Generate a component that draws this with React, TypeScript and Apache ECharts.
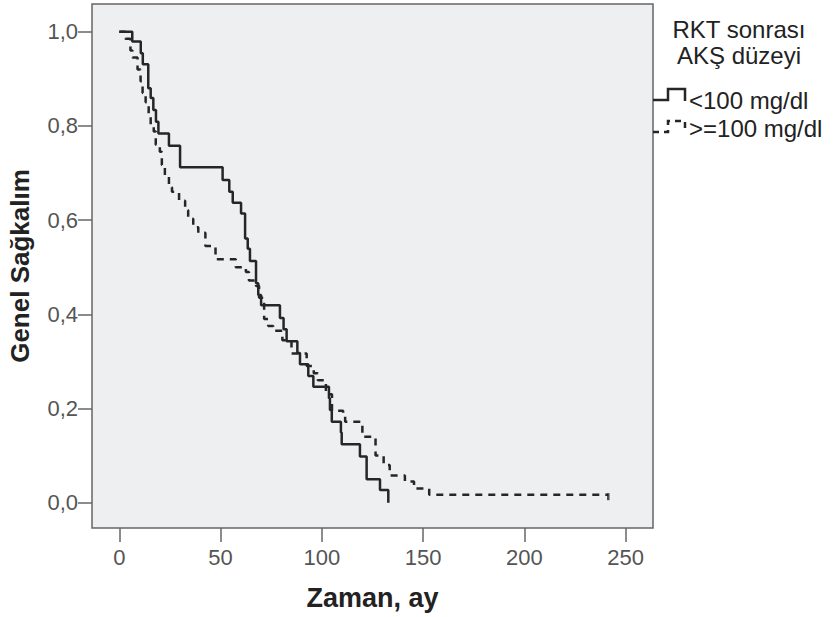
import React, { useEffect, useRef } from "react";
import * as echarts from "echarts";

const solidTimes = [0, 6.4, 10.6, 11.6, 14.3, 15.5, 16.8, 18.1, 19.3, 24.5, 30.0, 51.0, 54.3, 56.0, 60.1, 62.1, 63.4, 64.5, 67.5, 68.6, 70.0, 79.3, 81.1, 82.6, 87.9, 89.2, 93.3, 95.8, 103.5, 104.0, 104.9, 109.4, 109.8, 118.8, 122.1, 128.7, 132.8];
const solidSurv = [1.0, 0.979, 0.954, 0.931, 0.880, 0.859, 0.834, 0.809, 0.784, 0.758, 0.712, 0.685, 0.660, 0.637, 0.614, 0.561, 0.539, 0.513, 0.466, 0.441, 0.419, 0.392, 0.368, 0.343, 0.318, 0.294, 0.269, 0.246, 0.222, 0.197, 0.172, 0.149, 0.124, 0.098, 0.050, 0.027, 0.0];

const dashTimes = [0, 3, 5.5, 6.5, 9, 10.5, 11.5, 13, 14.5, 15.5, 17, 18, 20, 21, 22.5, 24.5, 26, 29.5, 32.5, 34, 36.5, 39, 42.5, 47.5, 57.5, 62.5, 64, 67.5, 69, 71.5, 73.5, 76, 80.5, 85, 92.5, 96, 98, 102, 105, 110.5, 111.5, 120, 126.5, 130.5, 133.5, 141, 145.5, 153, 241.4];
const dashSurv = [1.0, 0.985, 0.96, 0.945, 0.92, 0.895, 0.87, 0.85, 0.825, 0.80, 0.788, 0.76, 0.745, 0.717, 0.692, 0.67, 0.66, 0.641, 0.621, 0.603, 0.585, 0.573, 0.545, 0.517, 0.50, 0.49, 0.472, 0.46, 0.435, 0.39, 0.375, 0.365, 0.345, 0.317, 0.29, 0.275, 0.26, 0.23, 0.195, 0.185, 0.172, 0.14, 0.10, 0.08, 0.058, 0.045, 0.03, 0.017, 0.017];

const xTicks = [0, 50, 100, 150, 200, 250];
const yTicks = [0, 0.2, 0.4, 0.6, 0.8, 1.0];

const groupNames = ["<100 mg/dl", ">=100 mg/dl"];
const legendTitle = ["RKT sonrası", "AKŞ düzeyi"];
const xTitle = "Zaman, ay";
const yTitle = "Genel Sağkalım";

export default function App() {
  const ref = useRef<HTMLDivElement>(null);
  useEffect(() => {
    document.body.style.margin = "0";
    const chart = echarts.init(ref.current!, null, { renderer: "svg" });
    const lineColor = "#262626";
    const font = "Liberation Sans, Arial, sans-serif";
    const solidData = solidTimes.map((t, i) => [t, solidSurv[i]]);
    const dashData = dashTimes.map((t, i) => [t, dashSurv[i]]);
    const lastDash = dashData[dashData.length - 1];
    chart.setOption({
      animation: false,
      backgroundColor: "#ffffff",
      grid: {
        left: 92,
        top: 4,
        width: 561,
        height: 524,
        show: true,
        backgroundColor: "#EEEFF1",
        borderColor: "#666666",
        borderWidth: 1.5,
        outerBoundsMode: "none",
      },
      xAxis: {
        type: "value",
        min: -13.48,
        max: 263.48,
        name: xTitle,
        nameLocation: "middle",
        nameGap: 56,
        nameTextStyle: { fontFamily: font, fontSize: 27, fontWeight: "bold", color: "#222222" },
        axisLine: { show: false, onZero: false },
        axisTick: { show: true, length: 14, customValues: xTicks, lineStyle: { color: "#666666", width: 1.5 } },
        axisLabel: { customValues: xTicks, margin: 18, fontFamily: font, fontSize: 22, color: "#555555" },
        splitLine: { show: false },
      },
      yAxis: {
        type: "value",
        min: -0.0537,
        max: 1.0588,
        name: yTitle,
        nameLocation: "middle",
        nameGap: 59,
        nameTextStyle: { fontFamily: font, fontSize: 26, fontWeight: "bold", color: "#222222" },
        axisLine: { show: false, onZero: false },
        axisTick: { show: true, length: 14, customValues: yTicks, lineStyle: { color: "#666666", width: 1.5 } },
        axisLabel: {
          customValues: yTicks,
          margin: 14,
          fontFamily: font,
          fontSize: 22,
          color: "#555555",
          formatter: (v: number) => v.toFixed(1).replace(".", ","),
        },
        splitLine: { show: false },
      },
      series: [
        {
          name: groupNames[0],
          type: "line",
          step: "end",
          data: solidData,
          symbol: "none",
          lineStyle: { color: lineColor, width: 2.5 },
        },
        {
          name: groupNames[1],
          type: "line",
          step: "end",
          data: dashData,
          symbol: "none",
          lineStyle: { color: lineColor, width: 2.5, type: [7, 6] },
        },
        {
          type: "scatter",
          data: [lastDash],
          symbol: "rect",
          symbolSize: [2.5, 7],
          symbolOffset: [0, 2],
          itemStyle: { color: lineColor },
        },
      ],
      graphic: [
        { type: "text", x: 739, y: 29, style: { text: legendTitle[0], font: `24px ${font}`, fill: "#222222", align: "center", verticalAlign: "middle" } },
        { type: "text", x: 739, y: 55, style: { text: legendTitle[1], font: `24px ${font}`, fill: "#222222", align: "center", verticalAlign: "middle" } },
        { type: "polyline", shape: { points: [[653, 100], [668, 100], [668, 89], [685, 89], [685, 101]] }, style: { stroke: lineColor, lineWidth: 2.5, fill: null } },
        { type: "text", x: 689, y: 100, style: { text: groupNames[0], font: `24px ${font}`, fill: "#222222", align: "left", verticalAlign: "middle" } },
        { type: "polyline", shape: { points: [[653, 132], [668, 132], [668, 121], [685, 121], [685, 132]] }, style: { stroke: lineColor, lineWidth: 2.5, fill: null, lineDash: [6, 5] } },
        { type: "text", x: 689, y: 128, style: { text: groupNames[1], font: `24px ${font}`, fill: "#222222", align: "left", verticalAlign: "middle" } },
      ],
    });
    return () => chart.dispose();
  }, []);
  return <div ref={ref} style={{ width: 833, height: 617 }} />;
}
